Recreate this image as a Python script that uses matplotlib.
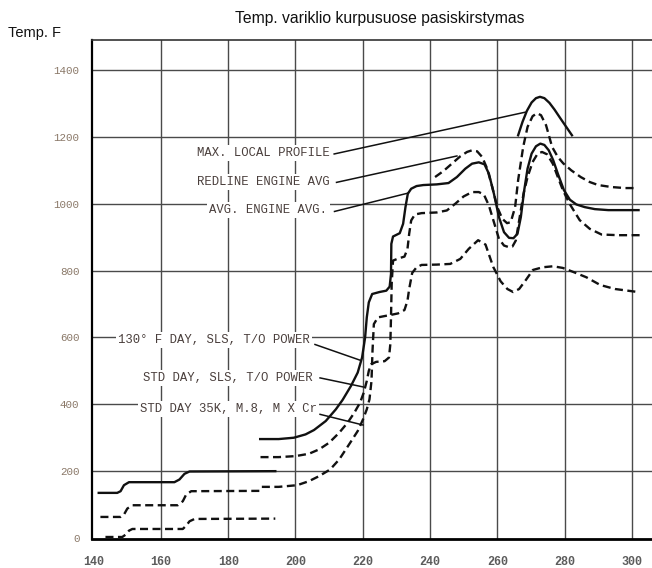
import matplotlib
matplotlib.use("Agg")
import matplotlib.pyplot as plt

# ---------------- data ----------------
title = "Temp. variklio kurpusuose pasiskirstymas"
ylabel = "Temp. F"
x_ticks = [140, 160, 180, 200, 220, 240, 260, 280, 300]
y_ticks = [0, 200, 400, 600, 800, 1000, 1200, 1400]

# low-temperature segments (left group)
left_solid_x = [141.5, 147, 148, 149, 150.5, 164, 165.5, 167, 168.5, 194]
left_solid_y = [135, 135, 140, 158, 167, 167, 175, 192, 199, 200]
left_dash1_x = [142, 148, 149, 150, 151.5, 165, 166.5, 167.5, 169, 189.5]
left_dash1_y = [63, 63, 70, 88, 98, 98, 110, 130, 140, 141]
left_dash2_x = [143.5, 148.5, 149.5, 150.5, 151.5, 166.5, 167.5, 168.5, 170, 194]
left_dash2_y = [3, 3, 10, 22, 27, 27, 37, 50, 57, 58]

# 130 F day, SLS, T/O power (solid)
hot_x = [189.5, 195, 199.5, 203, 205.5, 209, 212, 214, 216.5, 218.5, 219.8, 220.7,
         221.2, 221.8, 222.8, 225, 227, 228, 228.4, 228.5, 229, 231, 232, 232.7,
         233.4, 234.4, 236, 238, 242, 245.5, 248, 250.5, 252.5, 254.5, 256.2, 257.5,
         259, 260.5, 262, 263.5, 264.8, 266, 267, 268, 269, 270.2, 271.5, 272.8,
         274, 275.3, 276.6, 278, 279.8, 281.6, 283.5, 286, 289, 293, 298, 302]
hot_y = [296, 296, 300, 310, 323, 350, 385, 413, 455, 495, 540, 600,
         660, 705, 730, 736, 740, 752, 790, 880, 902, 912, 940, 990,
         1030, 1045, 1053, 1056, 1058, 1062, 1080, 1105, 1120, 1124, 1118, 1090,
         1030, 960, 915, 898, 897, 910, 960, 1040, 1105, 1150, 1172, 1180,
         1176, 1160, 1131, 1090, 1041, 1012, 998, 990, 984, 981, 981, 981]

# STD day, SLS, T/O power (dashed)
std_x = [189.6, 195, 200, 204, 207, 210, 213, 215.5, 217.5, 219.2, 220.3, 221.2,
         221.8, 222.5, 224, 226.5, 227.8, 228.2, 228.4, 228.6, 229, 230.5, 232.4,
         233.3, 233.8, 234.4, 235.5, 237.5, 242, 245, 247.5, 250, 252.5, 254.5,
         256, 257.5, 259, 260.5, 262, 263.5, 264.5, 265.5, 266.5, 267.8, 269,
         270.5, 272, 273.3, 274.8, 276.5, 278, 279.5, 281.5, 284.5, 287.5, 291,
         296, 303]
std_y = [242, 242, 245, 252, 265, 285, 315, 345, 375, 405, 435, 470,
         500, 520, 527, 529, 540, 580, 660, 760, 830, 836, 842,
         865, 910, 950, 968, 972, 974, 980, 1000, 1022, 1035, 1035,
         1028, 995, 945, 895, 875, 870, 872, 890, 950, 1030, 1080,
         1125, 1150, 1155, 1148, 1120, 1080, 1041, 1000, 951, 925, 908,
         906, 906]

# STD day 35K, M.8, max cruise (dashed)
cr_x = [190, 195, 200.5, 204, 207, 210.3, 213, 216.2, 218.5, 220, 221.2, 222,
        222.6, 222.9, 223.3, 224.5, 226.5, 228.1, 230.5, 232.4, 233.3, 233.8,
        234.7, 236, 237.5, 242, 246, 249, 251.5, 254.3, 256.5, 258.8, 261, 263,
        264.7, 266.5, 268.5, 270.6, 273.5, 276.6, 279.5, 282.6, 286.5, 290.6,
        295, 301.8]
cr_y = [153, 153, 158, 170, 185, 205, 235, 284, 320, 353, 385, 415,
        470, 560, 640, 660, 664, 667, 672, 682, 710, 745,
        793, 810, 817, 818, 820, 835, 865, 891, 878, 811, 768, 745,
        736, 745, 772, 802, 810, 813, 808, 796, 780, 757,
        745, 736]

# Max. local profile (solid arc)
max_x = [266.2, 267.5, 268.8, 270.2, 271.5, 272.7, 274, 275.5, 277, 278.8, 280.5, 282.2]
max_y = [1205, 1245, 1278, 1303, 1316, 1320, 1316, 1302, 1282, 1255, 1230, 1205]

# Redline engine avg (dashed)
red_x = [241.5, 244, 246.5, 249, 251, 252.5, 254, 255.5, 257, 258.5, 260, 261.5,
         262.9, 264, 265.3, 266.2, 267.7, 269, 270.5, 271.8, 273, 274.5, 276.3,
         278, 279.6, 282, 284.8, 287.5, 290, 294, 298, 301]
red_y = [1080, 1098, 1120, 1142, 1155, 1160, 1157, 1140, 1105, 1050, 990, 955,
         942, 945, 990, 1071, 1170, 1230, 1262, 1271, 1265, 1235, 1170,
         1140, 1121, 1100, 1080, 1065, 1056, 1050, 1047, 1047]

# annotations: label, text anchor (right edge x, y), leader start, leader end
top_labels = ["MAX. LOCAL PROFILE", "REDLINE ENGINE AVG", "AVG. ENGINE AVG."]
top_text_pos = [(210.3, 1152), (210.3, 1065), (209.5, 981)]
top_leaders = [((211.5, 1149), (268.3, 1274)),
               ((212.2, 1064), (248.0, 1143)),
               ((211.6, 977), (233.5, 1032))]

low_labels = ["130\u00b0 F DAY, SLS, T/O POWER", "STD DAY, SLS, T/O POWER",
              "STD DAY 35K, M.8, M X Cr"]
low_text_pos = [(204.3, 592), (205.2, 479), (206.4, 386)]
low_leaders = [((205.8, 579), (219.2, 532)),
               ((207.3, 479), (220.1, 452)),
               ((207.3, 370), (220.1, 338))]

# ---------------- figure ----------------
fig = plt.figure(figsize=(6.52, 5.68), dpi=100)
ax = fig.add_axes([92 / 652, 29 / 568, 560 / 652, 499 / 568])
ax.set_xlim(139.5, 306.0)
ax.set_ylim(-3, 1490)

grid_c = "#4a4a4a"
for xv in x_ticks[1:]:
    ax.axvline(xv, color=grid_c, lw=1.0, zorder=1)
for yv in y_ticks[1:]:
    ax.axhline(yv, color=grid_c, lw=1.0, zorder=1)

ax.spines["right"].set_visible(False)
ax.spines["left"].set_linewidth(1.6)
ax.spines["bottom"].set_linewidth(2.0)
ax.spines["top"].set_linewidth(1.2)
ax.spines["top"].set_color("#333333")

mono = "Liberation Mono"
ax.set_xticks(x_ticks)
ax.set_yticks(y_ticks)
ax.set_xticklabels([str(v) for v in x_ticks], fontfamily=mono, fontsize=8.5,
                   fontweight="bold", color="#5c5c5c")
ax.set_yticklabels([str(v) for v in y_ticks], fontfamily=mono, fontsize=7.8,
                   color="#8a7868")
ax.tick_params(axis="x", length=0, pad=12)
ax.tick_params(axis="y", length=0, pad=9)

lw = 1.7
dash = (0, (3.4, 1.9))
k = "#111111"
ax.plot(left_solid_x, left_solid_y, color=k, lw=lw, zorder=3)
ax.plot(left_dash1_x, left_dash1_y, color=k, lw=lw, ls=dash, zorder=3)
ax.plot(left_dash2_x, left_dash2_y, color=k, lw=lw, ls=dash, zorder=3)
ax.plot(hot_x, hot_y, color=k, lw=lw, zorder=3)
ax.plot(std_x, std_y, color=k, lw=lw, ls=dash, zorder=3)
ax.plot(cr_x, cr_y, color=k, lw=lw, ls=dash, zorder=3)
ax.plot(max_x, max_y, color=k, lw=lw, zorder=3)
ax.plot(red_x, red_y, color=k, lw=lw, ls=dash, zorder=3)

txt_c = "#4a3f3c"
for lab, (tx, ty), ((x0, y0), (x1, y1)) in zip(top_labels + low_labels,
                                               top_text_pos + low_text_pos,
                                               top_leaders + low_leaders):
    ax.text(tx, ty, lab, ha="right", va="center", fontfamily=mono, fontsize=8.8,
            color=txt_c, zorder=4,
            bbox=dict(facecolor="white", edgecolor="none", pad=1.5))
    ax.plot([x0, x1], [y0, y1], color=k, lw=1.1, zorder=3)

fig.text(380 / 652, 1 - 18 / 568, title, ha="center", va="center",
         fontfamily="Liberation Sans", fontsize=11.3, color="#111111")
fig.text(8 / 652, 1 - 33 / 568, ylabel, ha="left", va="center",
         fontfamily="Liberation Sans", fontsize=10.5, color="#111111")

fig.savefig("out.png", dpi=100, facecolor="white")
